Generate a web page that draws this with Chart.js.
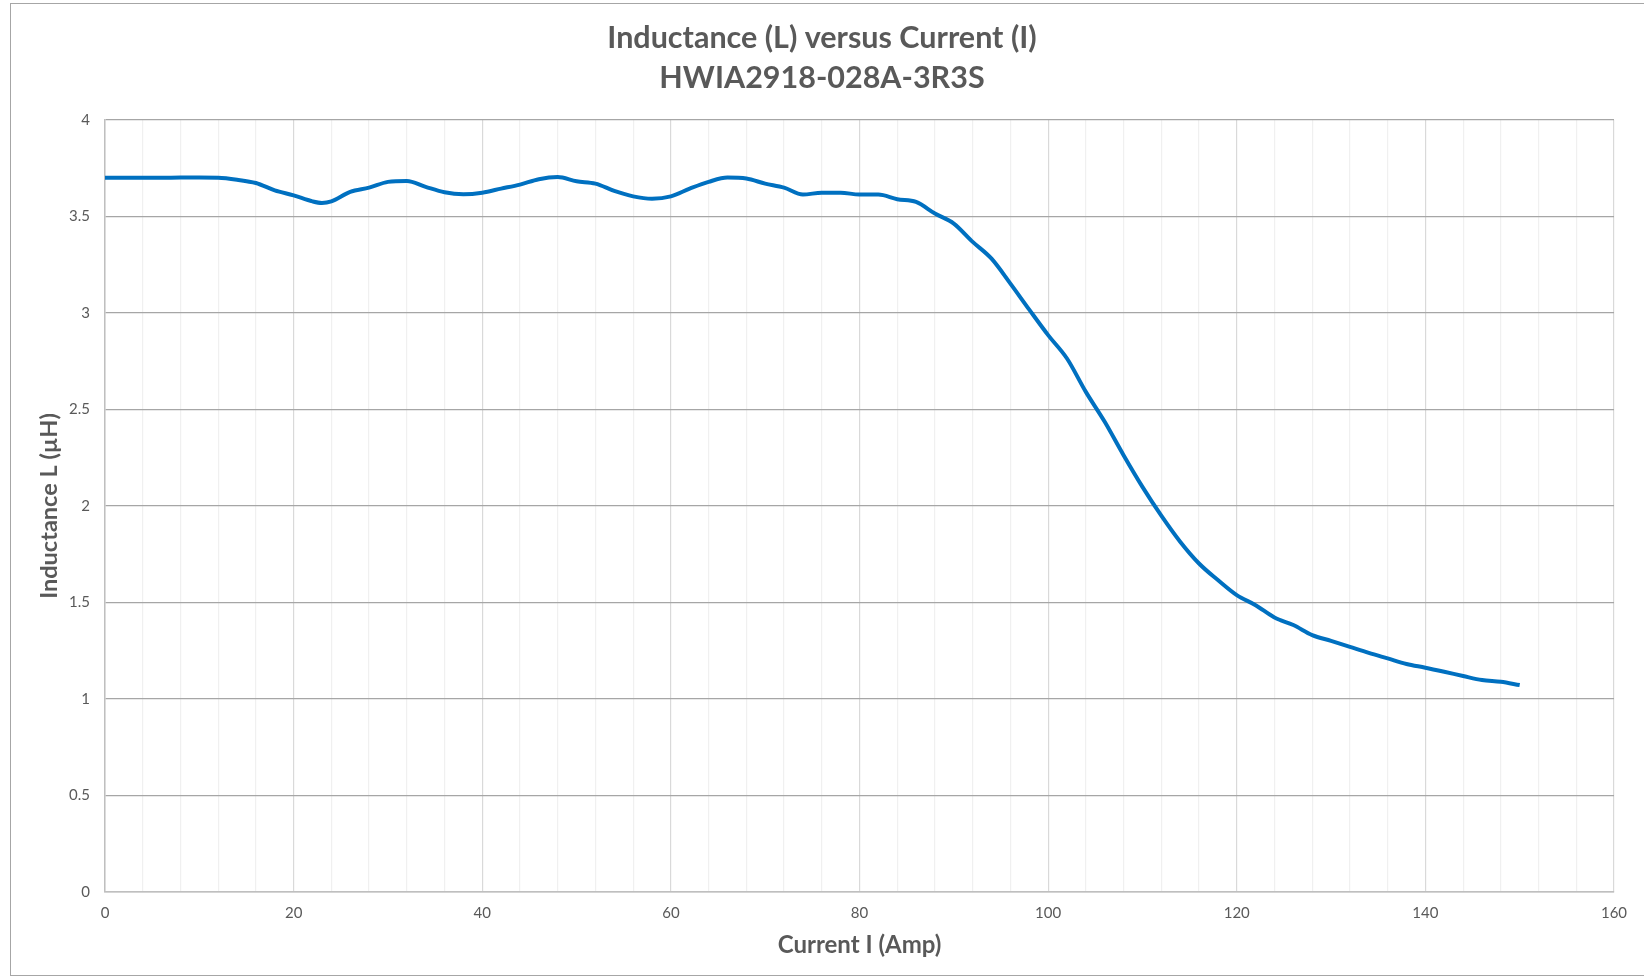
<!DOCTYPE html>
<html>
<head>
  <meta charset="UTF-8">
  <title>Inductance vs Current</title>
  <script src="https://cdn.jsdelivr.net/npm/chart.js"></script>
  <style>
    body { margin: 0; background: #fff; }
    #wrap { position: relative; width: 1644px; height: 978px; }
    #frame { position: absolute; left: 10px; top: 3px; width: 1700px; height: 971px;
             border: 1px solid #a6a6a6; pointer-events: none; }
  </style>
</head>
<body>
  <div id="wrap">
    <canvas id="chart"></canvas>
    <div id="frame"></div>
  </div>
  <script>
    const current = [0, 2, 4, 6, 8, 10, 12, 14, 16, 18, 20, 22, 23, 24, 26, 28, 30, 32, 34, 36, 38, 40,
      42, 44, 46, 48, 50, 52, 54, 56, 58, 60, 62, 64, 66, 68, 70, 72, 74, 76, 78, 80, 82, 84, 86, 88,
      90, 92, 94, 96, 98, 100, 102, 104, 106, 108, 110, 112, 114, 116, 118, 120, 122, 124, 126, 128,
      130, 132, 134, 136, 138, 140, 142, 144, 146, 148, 150];
    const inductance = [3.70, 3.70, 3.70, 3.70, 3.701, 3.701, 3.70, 3.69, 3.673, 3.635, 3.609, 3.578,
      3.570, 3.578, 3.627, 3.649, 3.679, 3.684, 3.653, 3.625, 3.615, 3.623, 3.644, 3.665, 3.693, 3.704,
      3.682, 3.670, 3.632, 3.604, 3.592, 3.604, 3.644, 3.679, 3.701, 3.696, 3.670, 3.649, 3.613, 3.623,
      3.623, 3.613, 3.613, 3.589, 3.575, 3.515, 3.463, 3.368, 3.281, 3.152, 3.017, 2.885, 2.764, 2.591,
      2.436, 2.263, 2.099, 1.950, 1.815, 1.702, 1.616, 1.538, 1.486, 1.422, 1.383, 1.331, 1.301, 1.270,
      1.239, 1.210, 1.181, 1.162, 1.141, 1.119, 1.098, 1.089, 1.072];
    const titleLines = ['Inductance (L) versus Current (I)', 'HWIA2918-028A-3R3S'];
    const xTitle = 'Current I (Amp)';
    const yTitle = 'Inductance L (µH)';

    const grey = '#595959';
    const font = 'Lato, "Open Sans", sans-serif';

    const ctx = document.getElementById('chart').getContext('2d');
    new Chart(ctx, {
      type: 'line',
      data: {
        datasets: [{
          data: current.map((c, i) => ({ x: c, y: inductance[i] })),
          borderColor: '#0070C0',
          borderWidth: 4,
          pointRadius: 0,
          fill: false,
          cubicInterpolationMode: 'monotone'
        }]
      },
      options: {
        responsive: true,
        maintainAspectRatio: false,
        animation: false,
        layout: { padding: 0 },
        plugins: {
          legend: { display: false },
          tooltip: { enabled: false },
          title: {
            display: true,
            text: titleLines,
            color: grey,
            font: { family: font, size: 30.5, weight: 'bold', lineHeight: 1.31 },
            padding: { top: 18, bottom: 22 }
          }
        },
        scales: {
          x: {
            type: 'linear',
            min: 0,
            max: 160,
            afterFit: s => { s.height = 86; s.paddingRight = 30; },
            ticks: {
              stepSize: 4,
              autoSkip: false,
              maxRotation: 0,
              padding: 12,
              color: grey,
              font: { family: font, size: 15 },
              callback: v => (v % 20 === 0 ? String(v) : '')
            },
            grid: {
              drawTicks: false,
              color: c => (c.tick && c.tick.value % 20 === 0 ? '#d9d9d9' : '#f0f0f0'),
              lineWidth: 1.2
            },
            border: { color: '#bfbfbf', width: 1.5 },
            title: {
              display: true,
              text: xTitle,
              color: grey,
              font: { family: font, size: 24, weight: 'bold', lineHeight: 1.2 },
              padding: { top: 0, bottom: 18.6 }
            }
          },
          y: {
            min: 0,
            max: 4,
            afterFit: s => { s.width = 105; },
            ticks: {
              stepSize: 0.5,
              padding: 15,
              color: grey,
              font: { family: font, size: 15 },
              callback: v => String(v)
            },
            grid: { drawTicks: false, color: '#a6a6a6', lineWidth: 1.3 },
            border: { color: '#bfbfbf', width: 1.5 },
            title: {
              display: true,
              text: yTitle,
              color: grey,
              font: { family: font, size: 23.5, weight: 'bold', lineHeight: 1.2 },
              padding: { top: 35, bottom: 0 }
            }
          }
        }
      }
    });
  </script>
</body>
</html>
